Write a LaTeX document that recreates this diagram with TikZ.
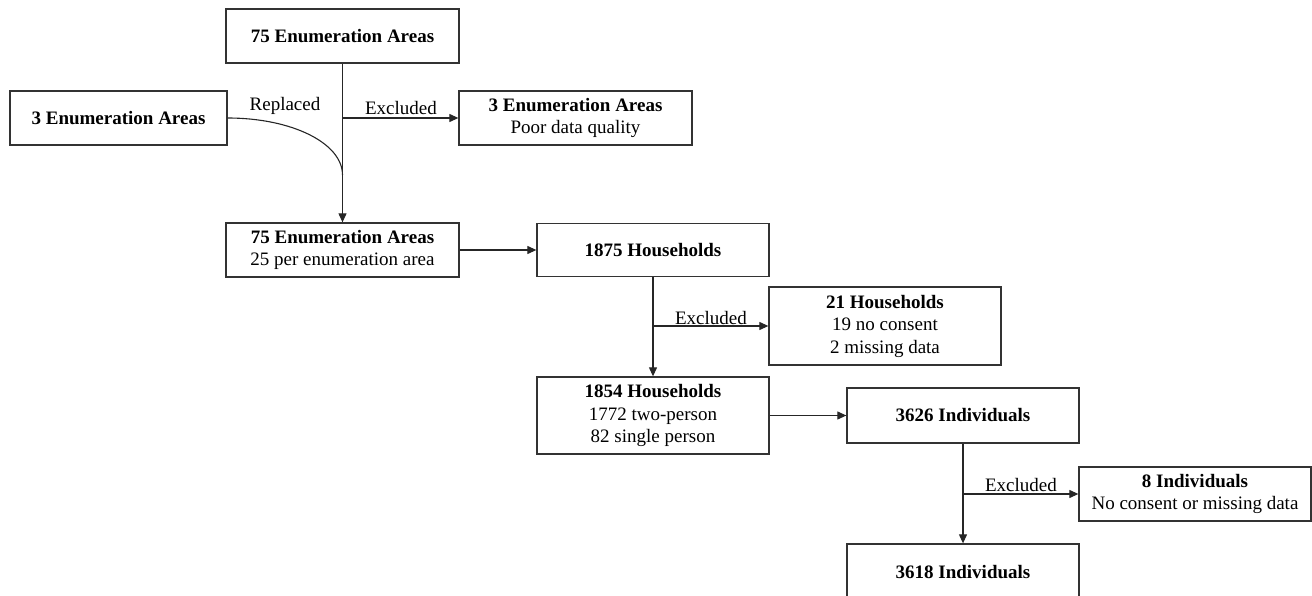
\documentclass[tikz,border=0pt]{standalone}
\usepackage{fontspec}
\setmainfont{Liberation Serif}
\usetikzlibrary{arrows.meta}
\begin{document}
\begin{tikzpicture}[x=1pt,y=-1pt,
  box/.style={draw=black!80,line width=1.3pt,align=center,inner sep=0pt,
    font=\fontsize{19}{22.5}\selectfont},
  conn/.style={draw=black!85,line width=1.1pt,-{Triangle[length=9pt,width=8pt]}},
  plain/.style={draw=black!85,line width=1.1pt},
  lab/.style={font=\fontsize{19}{22.5}\selectfont,inner sep=0pt}]
\useasboundingbox (0,0) rectangle (1312,596);
\node[box,minimum width=233pt,minimum height=54pt] (A) at (342.5,36) {\textbf{75 Enumeration Areas}};
\node[box,minimum width=217pt,minimum height=54pt] (B) at (118.5,118) {\textbf{3 Enumeration Areas}};
\node[box,minimum width=233pt,minimum height=54pt] (C) at (575.5,118) {\textbf{3 Enumeration Areas}\\Poor data quality};
\node[box,minimum width=233pt,minimum height=54pt] (D) at (342.5,250) {\textbf{75 Enumeration Areas}\\25 per enumeration area};
\node[box,minimum width=232pt,minimum height=53pt] (E) at (653,250) {\textbf{1875 Households}};
\node[box,minimum width=232pt,minimum height=78pt] (F) at (885,326) {\textbf{21 Households}\\19 no consent\\2 missing data};
\node[box,minimum width=232pt,minimum height=77pt] (G) at (653,415.5) {\textbf{1854 Households}\\1772 two-person\\82 single person};
\node[box,minimum width=232pt,minimum height=55pt] (H) at (963,415.5) {\textbf{3626 Individuals}};
\node[box,minimum width=232pt,minimum height=54pt] (I) at (1195,494) {\textbf{8 Individuals}\\No consent or missing data};
\node[box,minimum width=232pt,minimum height=56pt] (J) at (963,572) {\textbf{3618 Individuals}};
% connectors
\draw[conn] (A) -- (D);
\coordinate (e1) at (A.south |- C.west);
\draw[conn] (e1) -- (C);
\coordinate (r1) at (342.5,175);
\draw[plain] (B.east) .. controls +(64,0) and +(0,-32) .. (r1);
\draw[conn] (D) -- (E);
\draw[conn] (E) -- (G);
\coordinate (e2) at (E.south |- F.west);
\draw[conn] (e2) -- (F);
\draw[conn] (G) -- (H);
\draw[conn] (H) -- (J);
\coordinate (e3) at (H.south |- I.west);
\draw[conn] (e3) -- (I);
% labels
\node[lab] (l1) at (285,106) {Replaced};
\node[lab] (l2) at (401,108) {Excluded};
\node[lab] (l3) at (711,318) {Excluded};
\node[lab] (l4) at (1021,485) {Excluded};
\end{tikzpicture}
\end{document}
